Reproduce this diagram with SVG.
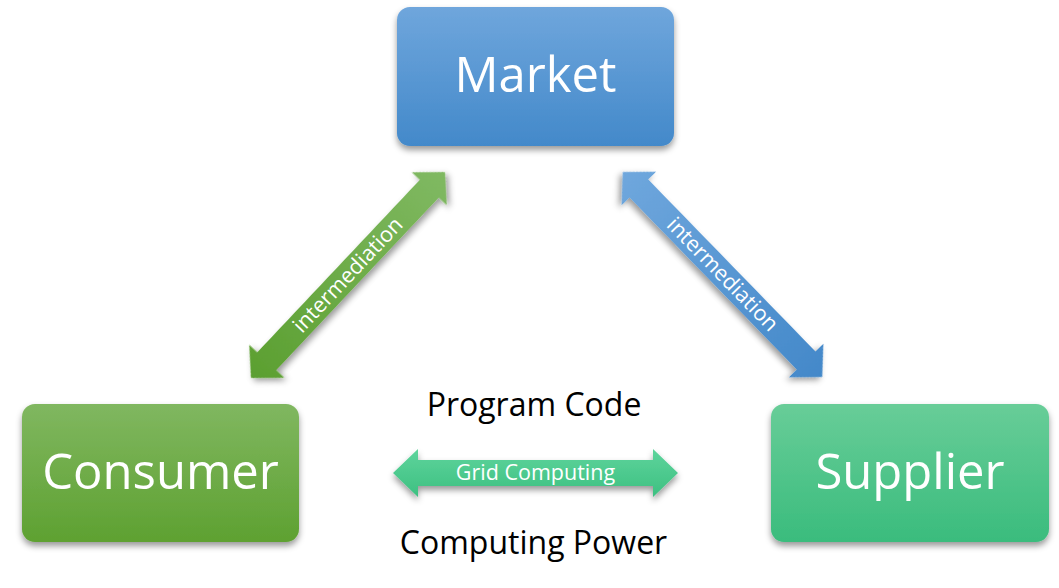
<svg xmlns="http://www.w3.org/2000/svg" width="1059" height="588" viewBox="0 0 1059 588">
<style>
.box-text{font-family:"Open Sans","Liberation Sans",sans-serif;fill:#fff;text-anchor:middle;font-size:49px}
.arrow-text{font-family:"Open Sans","Liberation Sans",sans-serif;fill:#fff;text-anchor:middle;font-size:21.5px}
.plain{font-family:"Open Sans","Liberation Sans",sans-serif;fill:#000;text-anchor:middle;font-size:32px}
</style>
<defs>
<filter id="sh" x="-20%" y="-20%" width="140%" height="150%">
<feDropShadow dx="0" dy="4" stdDeviation="3" flood-color="#000" flood-opacity="0.4"/>
</filter>
<linearGradient id="gBlue" x1="0" y1="0" x2="0" y2="1">
<stop offset="0" stop-color="#6fa6dc"/><stop offset="1" stop-color="#4389ca"/>
</linearGradient>
<linearGradient id="gGreen" x1="0" y1="0" x2="0" y2="1">
<stop offset="0" stop-color="#80b760"/><stop offset="1" stop-color="#5ea131"/>
</linearGradient>
<linearGradient id="gMint" x1="0" y1="0" x2="0" y2="1">
<stop offset="0" stop-color="#68cd98"/><stop offset="1" stop-color="#3abc7d"/>
</linearGradient>
<linearGradient id="aGreen" x1="1" y1="0" x2="0" y2="0">
<stop offset="0" stop-color="#80b962"/><stop offset="1" stop-color="#5b9f30"/>
</linearGradient>
<linearGradient id="aBlue" x1="0" y1="0" x2="1" y2="0">
<stop offset="0" stop-color="#6fa7dd"/><stop offset="1" stop-color="#4388c9"/>
</linearGradient>
<linearGradient id="aMint" x1="0" y1="0" x2="0" y2="1">
<stop offset="0" stop-color="#5ed49c"/><stop offset="1" stop-color="#3dc081"/>
</linearGradient>
</defs>

<g id="connectors">
<g id="consumer-market" transform="translate(348,275) rotate(-46.7)">
<path d="M-141.5,0 L-118.5,-24 L-118.5,-13 L118.5,-13 L118.5,-24 L141.5,0 L118.5,24 L118.5,13 L-118.5,13 L-118.5,24 Z" fill="url(#aGreen)" filter="url(#sh)"/>
<text class="arrow-text" x="0" y="7">intermediation</text>
</g>
<g id="market-supplier" transform="translate(722.5,274.5) rotate(45.8)">
<path d="M-143,0 L-120,-24 L-120,-13 L120,-13 L120,-24 L143,0 L120,24 L120,13 L-120,13 L-120,24 Z" fill="url(#aBlue)" filter="url(#sh)"/>
<text class="arrow-text" x="0" y="7">intermediation</text>
</g>
<g id="grid-computing">
<path d="M393,473 L418,449 L418,460 L653,460 L653,449 L678,473 L653,497 L653,486 L418,486 L418,497 Z" fill="url(#aMint)" filter="url(#sh)"/>
<text class="arrow-text" x="535.5" y="480">Grid Computing</text>
</g>
</g>

<g id="market">
<rect x="397" y="7" width="277" height="139" rx="13" fill="url(#gBlue)" filter="url(#sh)"/>
<text class="box-text" x="535.5" y="92">Market</text>
</g>
<g id="consumer">
<rect x="22" y="404" width="277" height="138" rx="13" fill="url(#gGreen)" filter="url(#sh)"/>
<text class="box-text" x="160.5" y="489" font-size="47">Consumer</text>
</g>
<g id="supplier">
<rect x="771" y="404" width="278" height="138" rx="13" fill="url(#gMint)" filter="url(#sh)"/>
<text class="box-text" x="910" y="489">Supplier</text>
</g>

<g id="labels">
<text class="plain" x="534" y="416">Program Code</text>
<text class="plain" x="533.5" y="554" font-size="32.5">Computing Power</text>
</g>
</svg>
